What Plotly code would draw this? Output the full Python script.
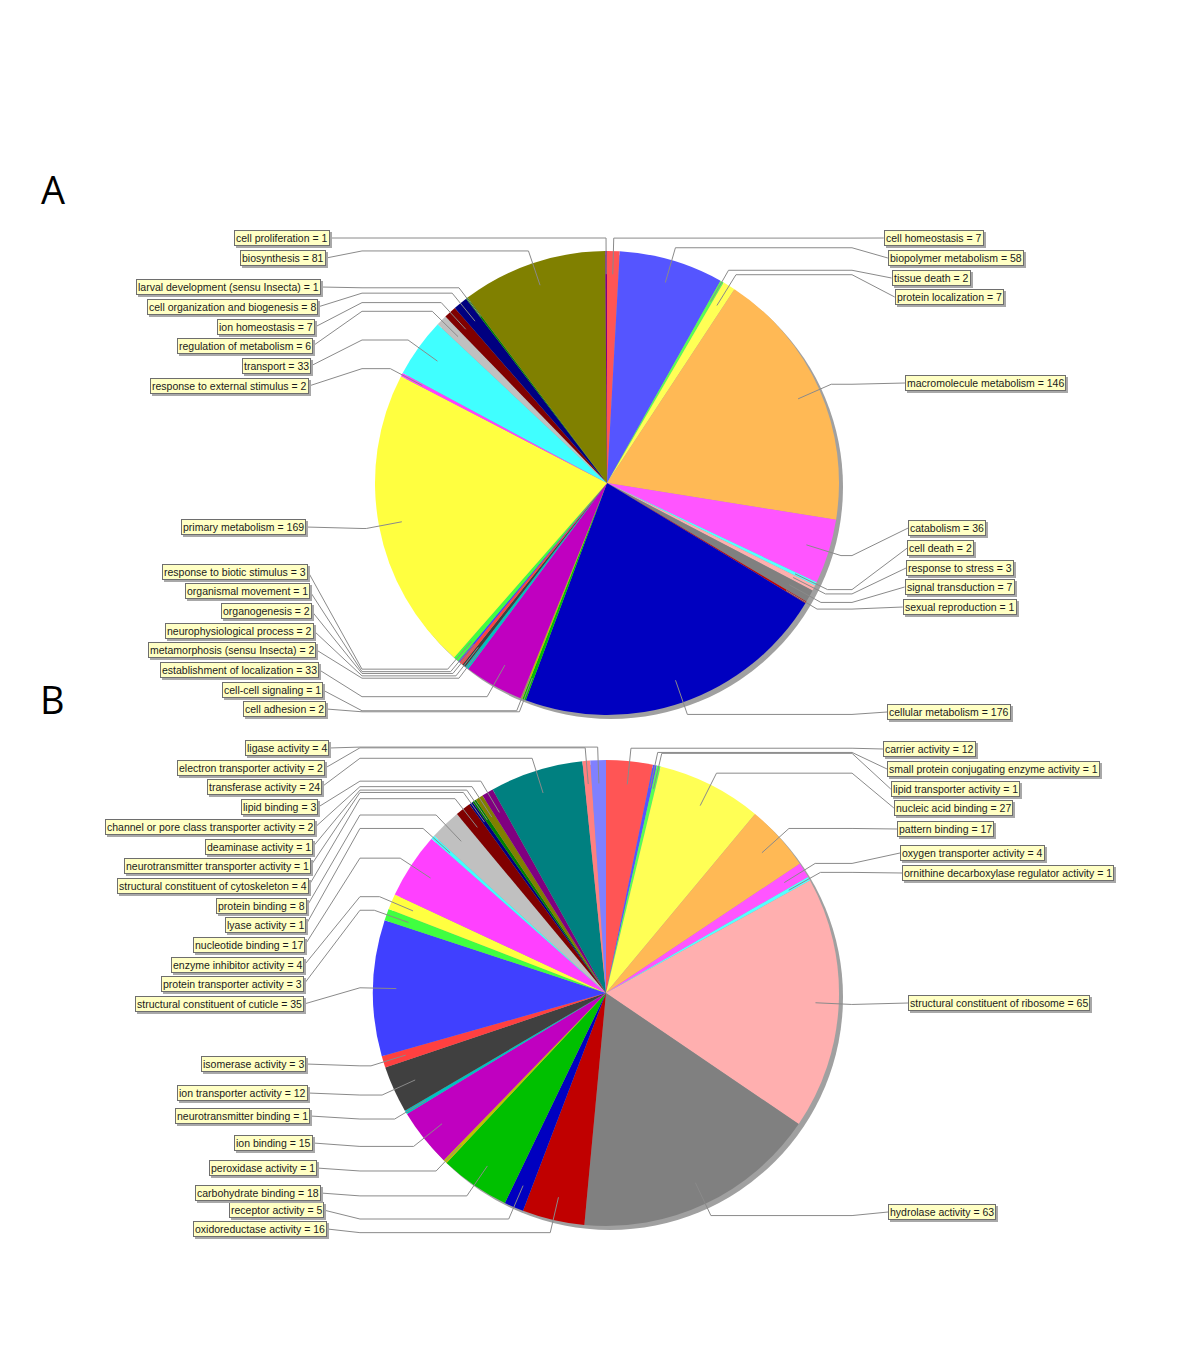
import math
import plotly.graph_objects as go

# page body has an 8px margin, so the figure is placed at (8, 8)
OFF = 8
W, H = 1200 - 2 * OFF, 1358 - 2 * OFF

# ---------------- data (clockwise from 12 o'clock) ----------------
a_labels = [
    "cell homeostasis", "biopolymer metabolism", "tissue death", "protein localization",
    "macromolecule metabolism", "catabolism", "cell death", "response to stress",
    "signal transduction", "sexual reproduction", "cellular metabolism", "cell adhesion",
    "cell-cell signaling", "establishment of localization", "metamorphosis (sensu Insecta)",
    "neurophysiological process", "organogenesis", "organismal movement",
    "response to biotic stimulus", "primary metabolism", "response to external stimulus",
    "transport", "regulation of metabolism", "ion homeostasis",
    "cell organization and biogenesis", "larval development (sensu Insecta)",
    "biosynthesis", "cell proliferation",
]
a_values = [7, 58, 2, 7, 146, 36, 2, 3, 7, 1, 176, 2, 1, 33, 2, 2, 2, 1, 3, 169, 2,
            33, 6, 7, 8, 1, 81, 1]

b_labels = [
    "carrier activity", "small protein conjugating enzyme activity", "lipid transporter activity",
    "nucleic acid binding", "pattern binding", "oxygen transporter activity",
    "ornithine decarboxylase regulator activity", "structural constituent of ribosome",
    "hydrolase activity", "oxidoreductase activity", "receptor activity",
    "carbohydrate binding", "peroxidase activity", "ion binding", "neurotransmitter binding",
    "ion transporter activity", "isomerase activity", "structural constituent of cuticle",
    "protein transporter activity", "enzyme inhibitor activity", "nucleotide binding",
    "lyase activity", "protein binding", "structural constituent of cytoskeleton",
    "neurotransmitter transporter activity", "deaminase activity",
    "channel or pore class transporter activity", "lipid binding", "transferase activity",
    "electron transporter activity", "ligase activity",
]
b_values = [12, 1, 1, 27, 17, 4, 1, 65, 63, 16, 5, 18, 1, 15, 1, 12, 3, 35, 3, 4, 17, 1, 8,
            4, 1, 1, 2, 3, 24, 2, 4]

# ---------------- styles / layout ----------------
palette = ["#FF5555", "#5555FF", "#55FF55", "#FFFF55", "#FFB955", "#FF55FF", "#55FFFF",
           "#FFAFAF", "#808080", "#C00000", "#0000C0", "#00C000", "#C0C000", "#C000C0",
           "#00C0C0", "#404040", "#FF4040", "#4040FF", "#40FF40", "#FFFF40", "#FF40FF",
           "#40FFFF", "#C0C0C0", "#800000", "#000080", "#008000", "#808000", "#800080",
           "#008080", "#FF8080", "#8080FF"]

# label box vertical positions (page pixels)
a_label_y = {
    "cell proliferation": 238, "biosynthesis": 258, "larval development (sensu Insecta)": 287,
    "cell organization and biogenesis": 307, "ion homeostasis": 327,
    "regulation of metabolism": 346, "transport": 366, "response to external stimulus": 386,
    "primary metabolism": 527, "response to biotic stimulus": 572, "organismal movement": 591,
    "organogenesis": 611, "neurophysiological process": 631,
    "metamorphosis (sensu Insecta)": 650, "establishment of localization": 670,
    "cell-cell signaling": 690, "cell adhesion": 709,
    "cell homeostasis": 238, "biopolymer metabolism": 258, "tissue death": 278,
    "protein localization": 297, "macromolecule metabolism": 383, "catabolism": 528,
    "cell death": 548, "response to stress": 568, "signal transduction": 587,
    "sexual reproduction": 607, "cellular metabolism": 712,
}
b_label_y = {
    "ligase activity": 748, "electron transporter activity": 768, "transferase activity": 787,
    "lipid binding": 807, "channel or pore class transporter activity": 827,
    "deaminase activity": 847, "neurotransmitter transporter activity": 866,
    "structural constituent of cytoskeleton": 886, "protein binding": 906,
    "lyase activity": 925, "nucleotide binding": 945, "enzyme inhibitor activity": 965,
    "protein transporter activity": 984, "structural constituent of cuticle": 1004,
    "isomerase activity": 1064, "ion transporter activity": 1093,
    "neurotransmitter binding": 1116, "ion binding": 1143, "peroxidase activity": 1168,
    "carbohydrate binding": 1193, "receptor activity": 1210, "oxidoreductase activity": 1229,
    "carrier activity": 749, "small protein conjugating enzyme activity": 769,
    "lipid transporter activity": 789, "nucleic acid binding": 808, "pattern binding": 829,
    "oxygen transporter activity": 853, "ornithine decarboxylase regulator activity": 873,
    "structural constituent of ribosome": 1003, "hydrolase activity": 1212,
}

pies = [
    dict(labels=a_labels, values=a_values, cx=607, cy=483, r=232, ly=a_label_y),
    dict(labels=b_labels, values=b_values, cx=606, cy=993, r=233, ly=b_label_y),
]

LINK_IN = 0.9      # link point radius fraction (inside pie)
ELBOW = 1.056      # elbow radius fraction
LAB_A, LAB_B = 302, 612   # ellipse for label box edges

FONT = "Liberation Sans"
FSIZE = 10.5


def px(x):
    return (x - OFF) / W


def py(y):
    return 1 - (y - OFF) / H


fig = go.Figure()
shapes = []
annotations = []

for p in pies:
    cx, cy, r = p["cx"], p["cy"], p["r"]
    # shadow disc
    shapes.append(dict(type="circle", xref="paper", yref="paper", layer="below",
                       x0=px(cx - r + 4), x1=px(cx + r + 4), y0=py(cy + r + 4), y1=py(cy - r + 4),
                       fillcolor="#a0a0a0", line=dict(width=0)))
    fig.add_trace(go.Pie(
        labels=p["labels"], values=p["values"], sort=False, direction="clockwise",
        rotation=0, textinfo="none", hoverinfo="label+value",
        marker=dict(colors=palette[:len(p["values"])], line=dict(width=0)),
        domain=dict(x=[px(cx - r), px(cx + r)], y=[py(cy + r), py(cy - r)]),
        showlegend=False,
    ))
    total = sum(p["values"])
    cum = 0
    for name, v in zip(p["labels"], p["values"]):
        frac_mid = (cum + v / 2) / total
        t = math.radians(frac_mid * 360)
        cum += v
        s, c = math.sin(t), math.cos(t)
        right = frac_mid < 0.5
        lx, ly_ = cx + LINK_IN * r * s, cy - LINK_IN * r * c
        ex, ey = cx + ELBOW * r * s, cy - ELBOW * r * c
        ax = cx + ELBOW * r if right else cx - ELBOW * r
        ty = p["ly"][name]
        half = LAB_A * math.sqrt(max(0.0, 1 - ((ty - cy) / LAB_B) ** 2))
        tx = cx + half if right else cx - half
        path = (f"M {px(lx)} {py(ly_)} L {px(ex)} {py(ey)} L {px(ax)} {py(ey)} "
                f"L {px(tx)} {py(ty)}")
        shapes.append(dict(type="path", xref="paper", yref="paper", path=path, layer="above",
                           line=dict(color="#8a8a8a", width=1)))
        text = f"{name} = {v}"
        common = dict(xref="paper", yref="paper", x=px(tx), y=py(ty),
                      xanchor="left" if right else "right", yanchor="middle",
                      showarrow=False, borderpad=1, borderwidth=1, text=text)
        annotations.append(dict(common, xshift=2, yshift=-2,
                                font=dict(family=FONT, size=FSIZE, color="#a8a8a8"),
                                bgcolor="#a8a8a8", bordercolor="#a8a8a8"))
        annotations.append(dict(common, font=dict(family=FONT, size=FSIZE, color="#1a1a1a"),
                                bgcolor="#FFFFC4", bordercolor="#6e6e6e"))

annotations.append(dict(xref="paper", yref="paper", x=px(39), y=py(189), text="A",
                        showarrow=False, xanchor="left", yanchor="middle",
                        font=dict(family="Open Sans", size=38, color="black")))
annotations.append(dict(xref="paper", yref="paper", x=px(38), y=py(699), text="B",
                        showarrow=False, xanchor="left", yanchor="middle",
                        font=dict(family="Open Sans", size=38, color="black")))

fig.update_layout(width=W, height=H, margin=dict(l=0, r=0, t=0, b=0),
                  paper_bgcolor="white", plot_bgcolor="white",
                  shapes=shapes, annotations=annotations)
fig.write_html("out.html")
